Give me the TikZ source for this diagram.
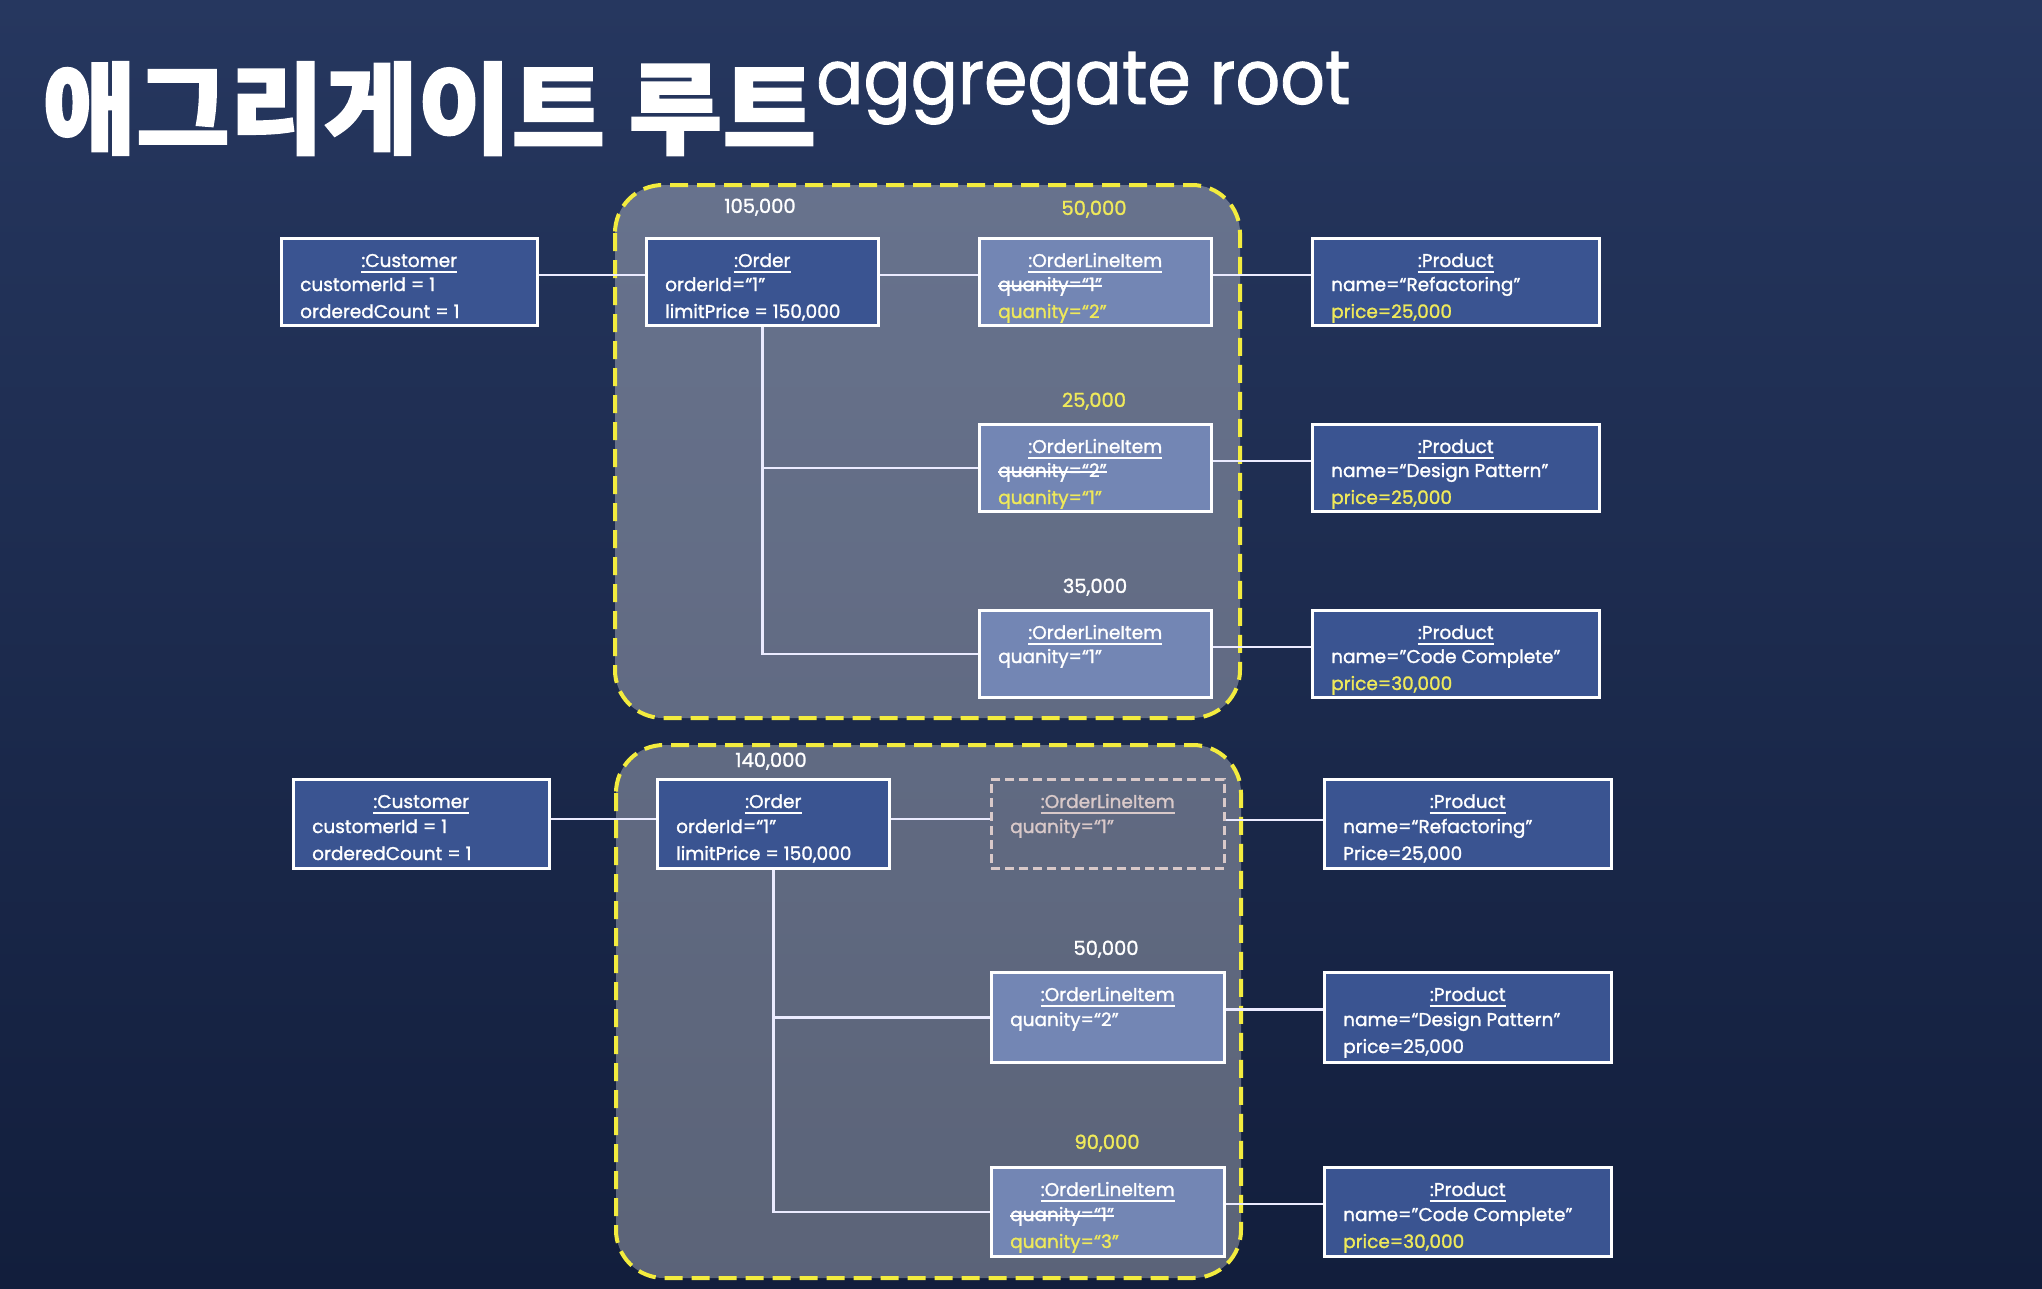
\documentclass[tikz,border=0pt]{standalone}
\usepackage{fontspec}
\setmainfont{Poppins}[FakeBold=1.4]
\newfontfamily\popbig{Poppins}[FakeBold=1.2]
\newfontfamily\krfont{Noto Sans CJK KR}[BoldFeatures={FakeBold=1.5}]
\definecolor{bgtop}{HTML}{26375F}
\definecolor{bgbot}{HTML}{121E3C}
\definecolor{boxblue}{HTML}{3A5491}
\definecolor{boxlight}{HTML}{7386B4}
\definecolor{hl}{HTML}{EFE95A}
\definecolor{dashy}{HTML}{F3EC3E}
\definecolor{ghostc}{HTML}{D9C9C9}
\tikzset{
  darkbox/.style={draw=white, line width=2.5pt, fill=boxblue},
  lightbox/.style={draw=white, line width=2.5pt, fill=boxlight},
  ghostbox/.style={draw=ghostc, line width=2.5pt, dash pattern=on 9pt off 5pt},
  txt/.style={text=white, inner sep=0pt, font=\fontsize{18.5}{22}\selectfont},
  lbl/.style={text=white, inner sep=0pt, anchor=base, font=\fontsize{19.5}{22}\selectfont},
  conn/.style={draw=white!92!blue, line width=2.5pt},
  ruleline/.style={line width=2pt},
  region/.style={draw=dashy, line width=4pt, dash pattern=on 18pt off 9pt, fill=white, fill opacity=0.31, rounded corners=48pt}
}
\newcommand{\objbox}[6]{\node[#2, minimum width=#5pt, minimum height=#6pt, anchor=north west, inner sep=0pt] (#1) at (#3,#4) {};}
\newcommand{\objtitle}[3][white]{\node[txt, text=#1, anchor=base] (#2-t) at ([yshift=-30pt]#2.north) {#3};
  \draw[ruleline, #1] ([yshift=-4.5pt]#2-t.base west) -- ([yshift=-4.5pt]#2-t.base east);}
\newcommand{\objline}[4][white]{\node[txt, text=#1, anchor=base west] (#2-#3) at ([xshift=20pt,yshift=-#3pt]#2.north west) {#4};}
\newcommand{\objstrike}[4][white]{\node[txt, text=#1, anchor=base west] (#2-#3) at ([xshift=20pt,yshift=-#3pt]#2.north west) {#4};
  \draw[ruleline, #1] ([yshift=5.5pt]#2-#3.base west) -- ([yshift=5.5pt]#2-#3.base east);}
\begin{document}
\begin{tikzpicture}[x=1pt,y=-1pt]
\useasboundingbox (0,0) rectangle (2042,1288);
\shade[top color=bgtop, bottom color=bgbot] (0,0) rectangle (2042,1288);

% titles
\node[anchor=base west, inner sep=0pt, text=white] (krtitle) at (42,146)
  {\scalebox{1.02}[1]{\krfont\bfseries\fontsize{100}{100}\selectfont 애그리게이트 루트}};
\node[anchor=base west, inner sep=0pt, text=white] (entitle) at (816,104)
  {\scalebox{0.92}[1]{\popbig\fontsize{76}{76}\selectfont aggregate root}};

% aggregate regions
\path[region] (615,185) rectangle (1240,718);
\path[region] (616,745) rectangle (1241,1278);

% ---------- top ----------
\objbox{c1}{darkbox}{280}{237}{256}{87}
\objbox{o1}{darkbox}{645}{237}{232}{87}
\objbox{l1}{lightbox}{978}{237}{232}{87}
\objbox{p1}{darkbox}{1311}{237}{287}{87}
\objbox{l2}{lightbox}{978}{423}{232}{87}
\objbox{p2}{darkbox}{1311}{423}{287}{87}
\objbox{l3}{lightbox}{978}{609}{232}{87}
\objbox{p3}{darkbox}{1311}{609}{287}{87}

\draw[conn] ([yshift=7pt]c1.east) -- ([yshift=7pt]o1.west);
\draw[conn] ([yshift=7pt]o1.east) -- ([yshift=7pt]l1.west);
\draw[conn] ([yshift=7pt]l1.east) -- ([yshift=7pt]p1.west);
\draw[conn] (o1.south) |- (l3.west);
\draw[conn] (o1.south |- l2.west) -- (l2.west);
\draw[conn] ([yshift=7pt]l2.east) -- ([yshift=7pt]p2.west);
\draw[conn] ([yshift=7pt]l3.east) -- ([yshift=7pt]p3.west);

\objtitle{c1}{:Customer}
\objline{c1}{54}{customerId = 1}
\objline{c1}{81}{orderedCount = 1}
\objtitle{o1}{:Order}
\objline{o1}{54}{orderId=“1”}
\objline{o1}{81}{limitPrice = 150,000}
\objtitle{l1}{:OrderLineItem}
\objstrike{l1}{54}{quanity=“1”}
\objline[hl]{l1}{81}{quanity=“2”}
\objtitle{p1}{:Product}
\objline{p1}{54}{name=“Refactoring”}
\objline[hl]{p1}{81}{price=25,000}
\objtitle{l2}{:OrderLineItem}
\objstrike{l2}{54}{quanity=“2”}
\objline[hl]{l2}{81}{quanity=“1”}
\objtitle{p2}{:Product}
\objline{p2}{54}{name=“Design Pattern”}
\objline[hl]{p2}{81}{price=25,000}
\objtitle{l3}{:OrderLineItem}
\objline{l3}{54}{quanity=“1”}
\objtitle{p3}{:Product}
\objline{p3}{54}{name=”Code Complete”}
\objline[hl]{p3}{81}{price=30,000}

\node[lbl] (s1) at (760,213) {105,000};
\node[lbl, text=hl] (s2) at (1094,215) {50,000};
\node[lbl, text=hl] (s3) at (1094,407) {25,000};
\node[lbl] (s4) at (1095,593) {35,000};

% ---------- bottom ----------
\objbox{c2}{darkbox}{292}{778}{256}{89}
\objbox{o2}{darkbox}{656}{778}{232}{89}
\objbox{l4}{ghostbox}{990}{778}{233}{89}
\objbox{p4}{darkbox}{1323}{778}{287}{89}
\objbox{l5}{lightbox}{990}{971}{233}{90}
\objbox{p5}{darkbox}{1323}{971}{287}{90}
\objbox{l6}{lightbox}{990}{1166}{233}{89}
\objbox{p6}{darkbox}{1323}{1166}{287}{89}

\draw[conn] ([yshift=5pt]c2.east) -- ([yshift=5pt]o2.west);
\draw[conn] ([yshift=5pt]o2.east) -- ([yshift=5pt]l4.west);
\draw[conn] ([yshift=4pt]l4.east) -- ([yshift=4pt]p4.west);
\draw[conn] (o2.south) |- (l6.west);
\draw[conn] (o2.south |- l5.west) -- (l5.west);
\draw[conn] ([yshift=8pt]l5.east) -- ([yshift=8pt]p5.west);
\draw[conn] ([yshift=8pt]l6.east) -- ([yshift=8pt]p6.west);

\objtitle{c2}{:Customer}
\objline{c2}{55}{customerId = 1}
\objline{c2}{82}{orderedCount = 1}
\objtitle{o2}{:Order}
\objline{o2}{55}{orderId=“1”}
\objline{o2}{82}{limitPrice = 150,000}
\objtitle[ghostc]{l4}{:OrderLineItem}
\objline[ghostc]{l4}{55}{quanity=“1”}
\objtitle{p4}{:Product}
\objline{p4}{55}{name=“Refactoring”}
\objline{p4}{82}{Price=25,000}
\objtitle{l5}{:OrderLineItem}
\objline{l5}{55}{quanity=“2”}
\objtitle{p5}{:Product}
\objline{p5}{55}{name=“Design Pattern”}
\objline{p5}{82}{price=25,000}
\objtitle{l6}{:OrderLineItem}
\objstrike{l6}{55}{quanity=“1”}
\objline[hl]{l6}{82}{quanity=“3”}
\objtitle{p6}{:Product}
\objline{p6}{55}{name=”Code Complete”}
\objline[hl]{p6}{82}{price=30,000}

\node[lbl] (s5) at (771,767) {140,000};
\node[lbl] (s6) at (1106,955) {50,000};
\node[lbl, text=hl] (s7) at (1107,1149) {90,000};
\end{tikzpicture}
\end{document}
